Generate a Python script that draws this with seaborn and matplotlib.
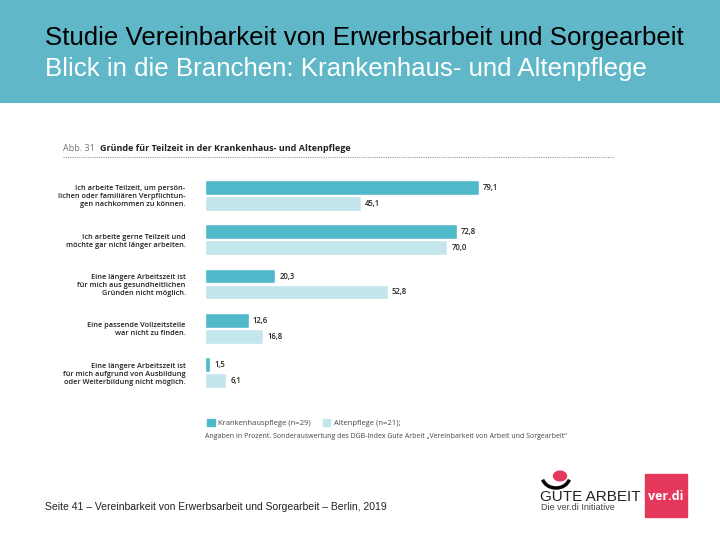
import matplotlib.pyplot as plt
import matplotlib.patches as mpatches
import numpy as np
import pandas as pd
import seaborn as sns

# reasons for part-time work (German labels as in the source)
reasons = [
    'Ich arbeite Teilzeit, um persön-\nlichen oder familiären Verpflichtun-\ngen nachkommen zu können.',
    'Ich arbeite gerne Teilzeit und\nmöchte gar nicht länger arbeiten.',
    'Eine längere Arbeitszeit ist\nfür mich aus gesundheitlichen\nGründen nicht möglich.',
    'Eine passende Vollzeitstelle\nwar nicht zu finden.',
    'Eine längere Arbeitszeit ist\nfür mich aufgrund von Ausbildung\noder Weiterbildung nicht möglich.',
]
krankenhaus = [79.1, 72.8, 20.3, 12.6, 1.5]
altenpflege = [45.1, 70.0, 52.8, 16.8, 6.1]
groups = ['Krankenhauspflege (n=29)', 'Altenpflege (n=21);']

df = pd.DataFrame({
    'reason': reasons * 2,
    'value': krankenhaus + altenpflege,
    'group': [groups[0]] * 5 + [groups[1]] * 5,
})

dark = '#4fb9c9'
light = '#c3e5ec'
header = '#60b7c8'

sns.set_theme(style='white')
plt.rcParams['font.family'] = ['Open Sans', 'DejaVu Sans']

fig = plt.figure(figsize=(7.2, 5.4), dpi=100)

# header band
band = fig.add_axes([0, 1 - 103 / 540, 1, 103 / 540])
band.set_axis_off()
band.add_patch(mpatches.Rectangle((0, 0), 1, 1, color=header, transform=band.transAxes))
fig.text(45 / 720, 1 - 38 / 540, 'Studie Vereinbarkeit von Erwerbsarbeit und Sorgearbeit',
         fontsize=18.6, color='black', va='center', family=['Liberation Sans'])
fig.text(45 / 720, 1 - 69 / 540, 'Blick in die Branchen: Krankenhaus- und Altenpflege',
         fontsize=18.6, color='white', va='center', family=['Liberation Sans'])

# chart title
fig.text(63 / 720, 1 - 148 / 540, 'Abb. 31', fontsize=6.5, color='#777777', va='center')
fig.text(100 / 720, 1 - 148 / 540, 'Gründe für Teilzeit in der Krankenhaus- und Altenpflege',
         fontsize=6.5, color='#222222', va='center', weight='bold')
fig.add_artist(plt.Line2D([63 / 720, 613 / 720], [1 - 157 / 540] * 2, color='#999999',
                          lw=0.8, ls=(0, (1, 1))))

ax = fig.add_axes([205 / 720, 145 / 540, 346 / 720, 222 / 540])
sns.barplot(data=df, x='value', y='reason', hue='group',
            palette=[dark, light], saturation=1, orient='h', width=0.72, gap=0.08,
            ax=ax, legend=False)
ax.set_xlim(0, 100)
ax.set_ylim(4.5, -0.5)
ax.set_xlabel('')
ax.set_ylabel('')
ax.set_xticks([])
sns.despine(ax=ax, left=True, bottom=True)
ax.tick_params(axis='y', length=0, pad=14, labelsize=5.3, labelcolor='#222222')
for lab in ax.get_yticklabels():
    lab.set_horizontalalignment('right')
    lab.set_fontweight('semibold')

for cont in ax.containers:
    ax.bar_label(cont, labels=[f'{v:.1f}'.replace('.', ',') for v in cont.datavalues],
                 padding=3, fontsize=5.5, color='#222222', fontweight='semibold')

# legend
handles = [mpatches.Patch(color=dark, label=groups[0]),
           mpatches.Patch(color=light, label=groups[1])]
fig.legend(handles=handles, loc='center left', bbox_to_anchor=(200 / 720, 1 - 423 / 540),
           ncol=2, frameon=False, fontsize=5.5, handlelength=1.0, handleheight=1.0,
           columnspacing=1.5, handletextpad=0.5, labelcolor='#444444')
fig.text(205 / 720, 1 - 437 / 540,
         'Angaben in Prozent. Sonderauswertung des DGB-Index Gute Arbeit \u201eVereinbarkeit von Arbeit und Sorgearbeit\u201c',
         fontsize=5, color='#444444', va='center')

# footer
fig.text(45 / 720, 1 - 507 / 540,
         'Seite 41 \u2013 Vereinbarkeit von Erwerbsarbeit und Sorgearbeit \u2013 Berlin, 2019',
         fontsize=7.5, color='#222222', va='center', family=['Liberation Sans'])
fig.text(540 / 720, 1 - 497 / 540, 'GUTE ARBEIT', fontsize=11, color='#222222',
         va='center', family=['Liberation Sans'])
fig.text(541 / 720, 1 - 508 / 540, 'Die ver.di Initiative', fontsize=6.5, color='#444444',
         va='center', family=['Liberation Sans'])
fig.add_artist(mpatches.Circle((560 / 720, 1 - 476 / 540), 0.009, color='#e5395b',
                               transform=fig.transFigure))
fig.add_artist(mpatches.Arc((556 / 720, 1 - 476 / 540), 28 / 720, 24 / 540, theta1=200,
                            theta2=340, color='black', lw=2.5, transform=fig.transFigure))
logo = mpatches.Rectangle((645 / 720, 1 - 517 / 540), 42 / 720, 43 / 540, color='#e5395b',
                          transform=fig.transFigure)
fig.add_artist(logo)
fig.text(666 / 720, 1 - 496 / 540, 'ver.di', fontsize=9, color='white', weight='bold',
         ha='center', va='center')

fig.savefig('out.png', dpi=100)
